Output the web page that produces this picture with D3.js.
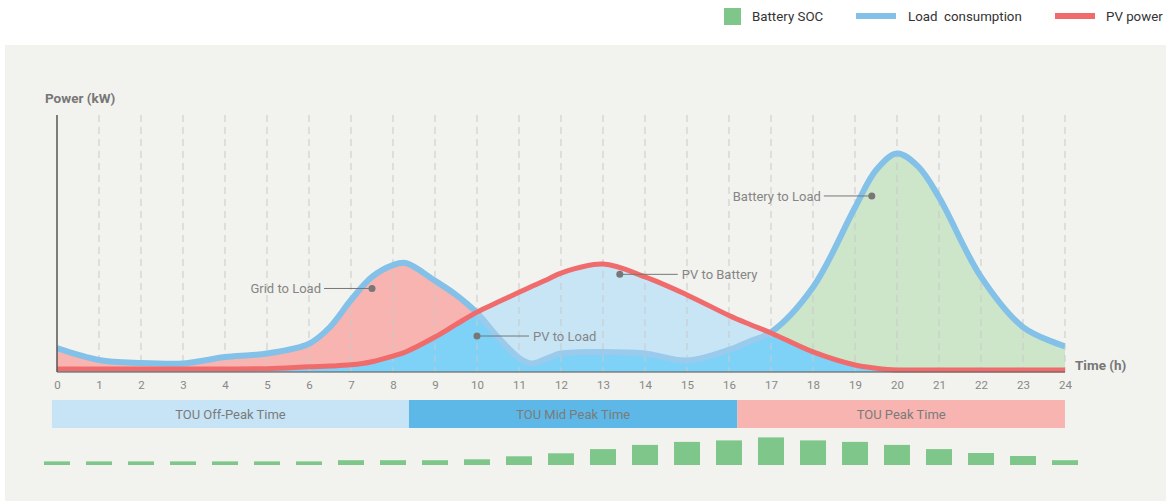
<!DOCTYPE html>
<html>
<head>
<meta charset="utf-8">
<script src="https://cdn.jsdelivr.net/npm/d3@7"></script>
<style>
  body { margin: 0; background: #fff; font-family: Roboto, "Noto Sans", sans-serif; }
  text { font-family: Roboto, "Noto Sans", sans-serif; }
</style>
</head>
<body>
<svg id="chart"></svg>
<script>
// hourly data (kW)
const hours = [0, 1, 2, 3, 3.5, 4, 5, 6, 6.5, 7, 7.5, 8, 8.3, 9, 9.5, 10, 10.5, 11, 11.3, 11.7, 12, 13, 14, 15, 16, 16.5, 17, 18, 19, 19.5, 20, 20.5, 21, 22, 23, 24];
const load = [0.93, 0.47, 0.35, 0.33, 0.45, 0.58, 0.72, 1.1, 1.75, 2.8, 3.7, 4.16, 4.24, 3.55, 3.0, 2.3, 1.35, 0.55, 0.33, 0.55, 0.72, 0.78, 0.72, 0.45, 0.86, 1.2, 1.55, 3.3, 6.4, 7.85, 8.5, 8.0, 6.8, 3.7, 1.75, 1.0];
const pv = [0.12, 0.12, 0.12, 0.12, 0.12, 0.12, 0.13, 0.2, 0.23, 0.28, 0.4, 0.62, 0.78, 1.36, 1.85, 2.33, 2.72, 3.1, 3.33, 3.62, 3.85, 4.2, 3.7, 3.0, 2.2, 1.85, 1.52, 0.78, 0.27, 0.15, 0.08, 0.08, 0.08, 0.08, 0.08, 0.08];

// battery SOC (%) one bar per hour 0..24
const socHours = d3.range(0, 25);
const soc = [12, 12, 12, 12, 12, 12, 12, 16, 16, 16, 19, 29, 39, 53, 67, 77, 82, 92, 82, 77, 67, 53, 40, 30, 16];

// TOU periods
const touLabels = ['TOU Off-Peak Time', 'TOU Mid Peak Time', 'TOU Peak Time'];
const touStart = [-0.12, 8.38, 16.2];
const touEnd = [8.38, 16.2, 24];
const touColors = ['#c6e4f6', '#5db8e7', '#f8b4b0'];

// annotations: [label, hour, kW, text x offset]
const notes = [
  ['Grid to Load', 7.5, 3.25, -48],
  ['PV to Load', 10, 1.4, 52],
  ['PV to Battery', 13.4, 3.8, 58],
  ['Battery to Load', 19.4, 6.85, -48]
];

const legendItems = ['Battery SOC', 'Load  consumption', 'PV power'];

const width = 1166;
const height = 501;

const svg = d3.select('#chart')
  .attr('width', width)
  .attr('height', height);

svg.append('rect')
  .attr('x', 5).attr('y', 45)
  .attr('width', width - 5).attr('height', height - 45)
  .attr('fill', '#f2f2ee');

const x = d3.scaleLinear().domain([0, 24]).range([57, 1065]);
const y = d3.scaleLinear().domain([0, 10]).range([372, 115]);
const socH = d3.scaleLinear().domain([0, 100]).range([0, 30]);

const pts = hours.map((h, i) => ({ h, load: load[i], pv: pv[i] }));
const curve = d3.curveCatmullRom.alpha(0.5);

const areaUnder = key => d3.area().curve(curve)
  .x(d => x(d.h)).y0(y(0)).y1(d => y(d[key]));
const areaOver = key => d3.area().curve(curve)
  .x(d => x(d.h)).y0(0).y1(d => y(d[key]));
const line = key => d3.line().curve(curve)
  .x(d => x(d.h)).y(d => y(d[key]));

const defs = svg.append('defs');
const clip = (id, path) => defs.append('clipPath').attr('id', id)
  .append('path').attr('d', path);

clip('underLoad', areaUnder('load')(pts));
clip('overLoad', areaOver('load')(pts));
clip('underPV', areaUnder('pv')(pts));
clip('overPV', areaOver('pv')(pts));
defs.append('clipPath').attr('id', 'morning')
  .append('rect').attr('x', 0).attr('y', 0).attr('width', x(12)).attr('height', height);
defs.append('clipPath').attr('id', 'evening')
  .append('rect').attr('x', x(12)).attr('y', 0).attr('width', width).attr('height', height);

// PV to load
svg.append('g').attr('clip-path', 'url(#underLoad)')
  .append('path').attr('d', areaUnder('pv')(pts)).attr('fill', '#7ed1f7');

// grid to load / battery to load
const overPV = svg.append('g').attr('clip-path', 'url(#overPV)');
overPV.append('g').attr('clip-path', 'url(#morning)')
  .append('path').attr('d', areaUnder('load')(pts)).attr('fill', '#f8b4b0');
overPV.append('g').attr('clip-path', 'url(#evening)')
  .append('path').attr('d', areaUnder('load')(pts)).attr('fill', '#cde6c9');

// PV to battery
svg.append('g').attr('clip-path', 'url(#overLoad)')
  .append('path').attr('d', areaUnder('pv')(pts)).attr('fill', '#c8e5f6');

// dashed grid
svg.append('g')
  .selectAll('line')
  .data(d3.range(1, 25))
  .join('line')
    .attr('x1', d => x(d)).attr('x2', d => x(d))
    .attr('y1', y(10)).attr('y2', y(0))
    .attr('stroke', '#c9c9c9')
    .attr('stroke-width', 1)
    .attr('stroke-dasharray', '7,5');

// load line: full where above PV, faded where below
svg.append('g').attr('clip-path', 'url(#overPV)')
  .append('path').attr('d', line('load')(pts))
  .attr('fill', 'none').attr('stroke', '#84c1e9').attr('stroke-width', 6);
svg.append('g').attr('clip-path', 'url(#underPV)')
  .append('path').attr('d', line('load')(pts))
  .attr('fill', 'none').attr('stroke', '#9acbec').attr('stroke-width', 6);

// PV line
svg.append('path')
  .attr('d', line('pv')(pts))
  .attr('fill', 'none').attr('stroke', '#f06b6b').attr('stroke-width', 5);

// axes
svg.append('line')
  .attr('x1', x(0)).attr('x2', x(0)).attr('y1', y(10)).attr('y2', y(0))
  .attr('stroke', '#555').attr('stroke-width', 1.5);
svg.append('line')
  .attr('x1', x(0)).attr('x2', x(24)).attr('y1', y(0)).attr('y2', y(0))
  .attr('stroke', '#666').attr('stroke-width', 1.5).attr('stroke-opacity', 0.8);

const xAxis = svg.append('g')
  .attr('transform', `translate(0,${y(0)})`)
  .call(d3.axisBottom(x).ticks(24).tickSize(0).tickPadding(9).tickFormat(d3.format('d')));
xAxis.select('.domain').remove();
xAxis.selectAll('text')
  .attr('fill', '#888')
  .style('font-size', '11.5px');

svg.append('text')
  .attr('x', 45).attr('y', 103)
  .attr('fill', '#777')
  .style('font-size', '13.5px').style('font-weight', 'bold')
  .text('Power (kW)');
svg.append('text')
  .attr('x', 1075).attr('y', 370)
  .attr('fill', '#777')
  .style('font-size', '13.5px').style('font-weight', 'bold')
  .text('Time (h)');

// annotations
const note = svg.append('g')
  .selectAll('g')
  .data(notes)
  .join('g');
note.append('line')
  .attr('x1', d => x(d[1])).attr('y1', d => y(d[2]))
  .attr('x2', d => x(d[1]) + d[3]).attr('y2', d => y(d[2]))
  .attr('stroke', '#777').attr('stroke-width', 1);
note.append('circle')
  .attr('cx', d => x(d[1])).attr('cy', d => y(d[2]))
  .attr('r', 3.5).attr('fill', '#777');
note.append('text')
  .attr('x', d => x(d[1]) + d[3] + (d[3] < 0 ? -3 : 4))
  .attr('y', d => y(d[2]))
  .attr('dy', '0.35em')
  .attr('text-anchor', d => d[3] < 0 ? 'end' : 'start')
  .attr('fill', '#858585')
  .style('font-size', '13px')
  .text(d => d[0]);

// TOU bands
const tou = svg.append('g')
  .selectAll('g')
  .data(touLabels)
  .join('g');
tou.append('rect')
  .attr('x', (d, i) => x(touStart[i]))
  .attr('y', 400)
  .attr('width', (d, i) => x(touEnd[i]) - x(touStart[i]))
  .attr('height', 28)
  .attr('fill', (d, i) => touColors[i]);
tou.append('text')
  .attr('x', (d, i) => (x(touStart[i]) + x(touEnd[i])) / 2)
  .attr('y', 414)
  .attr('dy', '0.35em')
  .attr('text-anchor', 'middle')
  .attr('fill', '#7b7b7b')
  .style('font-size', '13px')
  .text(d => d);

// SOC bars
svg.append('g')
  .selectAll('rect')
  .data(soc)
  .join('rect')
    .attr('x', (d, i) => x(socHours[i]) - 13)
    .attr('y', d => 465 - socH(d))
    .attr('width', 26)
    .attr('height', d => socH(d))
    .attr('fill', '#7fc68a');

// legend
const legend = svg.append('g');
legend.append('rect')
  .attr('x', 724).attr('y', 8).attr('width', 17).attr('height', 17)
  .attr('fill', '#7fc68a');
legend.append('line')
  .attr('x1', 856).attr('x2', 896).attr('y1', 16).attr('y2', 16)
  .attr('stroke', '#84c1e9').attr('stroke-width', 6);
legend.append('line')
  .attr('x1', 1055).attr('x2', 1095).attr('y1', 16).attr('y2', 16)
  .attr('stroke', '#f06b6b').attr('stroke-width', 6);
legend.selectAll('text')
  .data(legendItems)
  .join('text')
    .attr('x', (d, i) => [752, 908, 1106][i])
    .attr('y', 16)
    .attr('dy', '0.35em')
    .attr('fill', '#333')
    .style('font-size', '13.3px')
    .style('white-space', 'pre')
    .text(d => d);
</script>
</body>
</html>
